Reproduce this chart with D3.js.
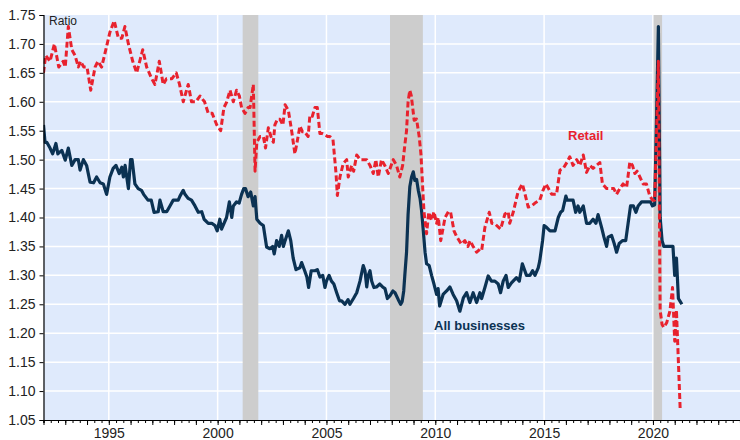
<!DOCTYPE html>
<html>
<head>
<meta charset="utf-8">
<script src="https://cdn.jsdelivr.net/npm/d3@7"></script>
<style>
  body { margin: 0; background: #fff; }
  svg { display: block; font-family: "Liberation Sans", Arial, sans-serif; }
</style>
</head>
<body>
<svg id="chart" width="740" height="440"></svg>
<script>

// readings, [decimal year, ratio]
const allBusinesses = [
  [1992.0, 1.56], [1992.07, 1.53], [1992.15, 1.53], [1992.3, 1.52], [1992.42, 1.51], [1992.57, 1.528],
  [1992.66, 1.51], [1992.84, 1.516], [1993.0, 1.499], [1993.14, 1.52], [1993.3, 1.49], [1993.45, 1.50],
  [1993.6, 1.50], [1993.68, 1.482], [1993.83, 1.50], [1993.98, 1.49], [1994.14, 1.461], [1994.3, 1.46],
  [1994.44, 1.47], [1994.6, 1.46], [1994.75, 1.458], [1994.9, 1.44], [1995.05, 1.47], [1995.2, 1.485],
  [1995.33, 1.49], [1995.48, 1.476], [1995.6, 1.487], [1995.67, 1.47], [1995.75, 1.49], [1995.9, 1.45],
  [1996.0, 1.50], [1996.07, 1.50], [1996.2, 1.458], [1996.35, 1.45], [1996.5, 1.447], [1996.6, 1.44],
  [1996.8, 1.43], [1996.95, 1.43], [1997.08, 1.409], [1997.27, 1.41], [1997.35, 1.43], [1997.5, 1.41],
  [1997.66, 1.41], [1997.81, 1.42], [1997.96, 1.43], [1998.19, 1.43], [1998.27, 1.437], [1998.42, 1.447],
  [1998.5, 1.44], [1998.65, 1.433], [1998.8, 1.43], [1998.96, 1.42], [1999.11, 1.409], [1999.27, 1.41],
  [1999.38, 1.397], [1999.57, 1.39], [1999.73, 1.39], [1999.88, 1.386], [1999.98, 1.377], [2000.1, 1.397],
  [2000.18, 1.38], [2000.41, 1.40], [2000.54, 1.427], [2000.65, 1.40], [2000.72, 1.42], [2000.87, 1.427],
  [2000.99, 1.425], [2001.1, 1.44], [2001.2, 1.45], [2001.28, 1.45], [2001.4, 1.436], [2001.52, 1.444],
  [2001.64, 1.42], [2001.72, 1.436], [2001.8, 1.397], [2001.95, 1.39], [2002.1, 1.386], [2002.25, 1.349],
  [2002.4, 1.346], [2002.53, 1.35], [2002.6, 1.337], [2002.71, 1.36], [2002.83, 1.35], [2002.94, 1.369],
  [2003.02, 1.35], [2003.1, 1.36], [2003.25, 1.377], [2003.36, 1.36], [2003.47, 1.33], [2003.6, 1.31],
  [2003.78, 1.313], [2003.86, 1.322], [2004.0, 1.308], [2004.1, 1.297], [2004.18, 1.279], [2004.3, 1.308],
  [2004.47, 1.308], [2004.58, 1.31], [2004.7, 1.297], [2004.83, 1.30], [2004.93, 1.279], [2005.0, 1.29],
  [2005.12, 1.30], [2005.23, 1.29], [2005.34, 1.285], [2005.47, 1.27], [2005.6, 1.256], [2005.7, 1.256],
  [2005.85, 1.25], [2005.99, 1.258], [2006.08, 1.25], [2006.24, 1.26], [2006.39, 1.27], [2006.54, 1.29],
  [2006.69, 1.317], [2006.77, 1.308], [2006.85, 1.28], [2006.92, 1.30], [2007.0, 1.308], [2007.08, 1.29],
  [2007.18, 1.279], [2007.3, 1.28], [2007.45, 1.285], [2007.58, 1.28], [2007.69, 1.277], [2007.8, 1.26],
  [2007.92, 1.265], [2008.05, 1.273], [2008.15, 1.27], [2008.3, 1.258], [2008.41, 1.25], [2008.48, 1.255],
  [2008.55, 1.273], [2008.6, 1.30], [2008.68, 1.34], [2008.75, 1.405], [2008.83, 1.453], [2008.91, 1.47],
  [2008.99, 1.479], [2009.06, 1.464], [2009.14, 1.466], [2009.22, 1.447], [2009.3, 1.433], [2009.37, 1.412],
  [2009.45, 1.377], [2009.53, 1.34], [2009.6, 1.32], [2009.72, 1.317], [2009.83, 1.30], [2009.94, 1.285],
  [2010.06, 1.267], [2010.13, 1.277], [2010.2, 1.247], [2010.36, 1.267], [2010.52, 1.273], [2010.67, 1.28],
  [2010.82, 1.267], [2010.98, 1.256], [2011.13, 1.238], [2011.29, 1.261], [2011.44, 1.27], [2011.59, 1.253],
  [2011.74, 1.27], [2011.9, 1.253], [2012.05, 1.27], [2012.13, 1.26], [2012.28, 1.279], [2012.43, 1.299],
  [2012.58, 1.29], [2012.74, 1.29], [2012.89, 1.285], [2013.0, 1.27], [2013.12, 1.29], [2013.25, 1.30],
  [2013.35, 1.279], [2013.5, 1.287], [2013.73, 1.296], [2013.86, 1.29], [2014.0, 1.32], [2014.19, 1.30],
  [2014.35, 1.30], [2014.47, 1.308], [2014.58, 1.30], [2014.73, 1.313], [2014.8, 1.325], [2014.93, 1.36],
  [2015.0, 1.386], [2015.11, 1.383], [2015.27, 1.377], [2015.5, 1.377], [2015.65, 1.40], [2015.76, 1.409],
  [2015.85, 1.412], [2016.0, 1.437], [2016.06, 1.43], [2016.18, 1.43], [2016.33, 1.43], [2016.45, 1.409],
  [2016.56, 1.42], [2016.64, 1.409], [2016.8, 1.42], [2016.95, 1.39], [2017.1, 1.39], [2017.25, 1.397],
  [2017.38, 1.39], [2017.48, 1.405], [2017.64, 1.383], [2017.75, 1.366], [2017.87, 1.35], [2017.94, 1.366],
  [2018.1, 1.369], [2018.22, 1.355], [2018.33, 1.34], [2018.45, 1.355], [2018.6, 1.36], [2018.75, 1.36],
  [2018.86, 1.39], [2018.97, 1.42], [2019.1, 1.42], [2019.22, 1.409], [2019.32, 1.42], [2019.48, 1.427],
  [2019.63, 1.427], [2019.78, 1.427], [2019.89, 1.427], [2019.98, 1.42], [2020.08, 1.422], [2020.17, 1.58],
  [2020.25, 1.73], [2020.33, 1.40], [2020.42, 1.36], [2020.5, 1.35], [2020.92, 1.35], [2021.0, 1.30],
  [2021.08, 1.33], [2021.17, 1.26], [2021.25, 1.255], [2021.33, 1.25]
]

const retail = [
  [1992.0, 1.65], [1992.1, 1.68], [1992.3, 1.67], [1992.5, 1.70], [1992.7, 1.66], [1992.9, 1.67],
  [1993.0, 1.66], [1993.14, 1.73], [1993.3, 1.69], [1993.45, 1.68], [1993.6, 1.66], [1993.7, 1.67],
  [1993.85, 1.66], [1994.0, 1.66], [1994.17, 1.62], [1994.37, 1.66], [1994.5, 1.67], [1994.67, 1.66],
  [1994.8, 1.68], [1995.05, 1.72], [1995.25, 1.74], [1995.44, 1.71], [1995.6, 1.71], [1995.74, 1.73],
  [1995.9, 1.70], [1996.1, 1.67], [1996.28, 1.65], [1996.42, 1.67], [1996.56, 1.69], [1996.74, 1.66],
  [1996.97, 1.64], [1997.12, 1.63], [1997.32, 1.67], [1997.5, 1.63], [1997.65, 1.64], [1997.9, 1.64],
  [1998.1, 1.65], [1998.25, 1.63], [1998.42, 1.60], [1998.65, 1.63], [1998.8, 1.60], [1999.0, 1.60],
  [1999.19, 1.61], [1999.4, 1.60], [1999.57, 1.58], [1999.75, 1.58], [1999.96, 1.56], [2000.14, 1.55],
  [2000.29, 1.59], [2000.42, 1.60], [2000.57, 1.62], [2000.72, 1.60], [2000.87, 1.62], [2001.0, 1.61],
  [2001.1, 1.59], [2001.26, 1.58], [2001.4, 1.59], [2001.49, 1.59], [2001.64, 1.63], [2001.72, 1.48],
  [2001.8, 1.53], [2001.95, 1.54], [2002.1, 1.54], [2002.2, 1.52], [2002.33, 1.555], [2002.45, 1.54],
  [2002.56, 1.53], [2002.63, 1.56], [2002.75, 1.57], [2002.86, 1.57], [2003.0, 1.56], [2003.1, 1.595],
  [2003.25, 1.585], [2003.4, 1.55], [2003.55, 1.51], [2003.65, 1.53], [2003.78, 1.558], [2003.9, 1.548],
  [2004.0, 1.548], [2004.16, 1.54], [2004.24, 1.577], [2004.35, 1.575], [2004.47, 1.59], [2004.58, 1.59],
  [2004.7, 1.545], [2004.82, 1.545], [2004.93, 1.543], [2005.05, 1.54], [2005.16, 1.54], [2005.3, 1.535],
  [2005.44, 1.476], [2005.5, 1.438], [2005.62, 1.47], [2005.77, 1.493], [2005.93, 1.50], [2006.0, 1.47],
  [2006.16, 1.49], [2006.25, 1.48], [2006.39, 1.508], [2006.55, 1.50], [2006.7, 1.50], [2006.85, 1.50],
  [2007.0, 1.49], [2007.15, 1.476], [2007.27, 1.50], [2007.38, 1.47], [2007.53, 1.50], [2007.68, 1.49],
  [2007.84, 1.476], [2008.07, 1.50], [2008.22, 1.49], [2008.37, 1.47], [2008.5, 1.49], [2008.6, 1.525],
  [2008.68, 1.55], [2008.75, 1.60], [2008.83, 1.62], [2008.9, 1.61], [2009.03, 1.568], [2009.14, 1.57],
  [2009.26, 1.54], [2009.34, 1.51], [2009.48, 1.41], [2009.6, 1.372], [2009.7, 1.409], [2009.83, 1.395],
  [2009.94, 1.41], [2010.06, 1.39], [2010.14, 1.40], [2010.25, 1.36], [2010.45, 1.40], [2010.6, 1.41],
  [2010.7, 1.41], [2010.86, 1.377], [2010.98, 1.367], [2011.2, 1.354], [2011.36, 1.36], [2011.5, 1.35],
  [2011.6, 1.36], [2011.74, 1.35], [2011.9, 1.34], [2012.05, 1.345], [2012.13, 1.343], [2012.28, 1.383],
  [2012.48, 1.409], [2012.6, 1.39], [2012.74, 1.389], [2013.0, 1.38], [2013.2, 1.406], [2013.35, 1.41],
  [2013.42, 1.39], [2013.58, 1.409], [2013.8, 1.444], [2014.0, 1.458], [2014.1, 1.444], [2014.27, 1.418],
  [2014.42, 1.42], [2014.58, 1.425], [2014.8, 1.43], [2014.95, 1.447], [2015.08, 1.458], [2015.2, 1.45],
  [2015.35, 1.44], [2015.57, 1.44], [2015.73, 1.482], [2015.88, 1.485], [2016.06, 1.496], [2016.18, 1.505],
  [2016.33, 1.49], [2016.5, 1.50], [2016.64, 1.49], [2016.8, 1.508], [2016.95, 1.478], [2017.1, 1.49],
  [2017.25, 1.485], [2017.4, 1.49], [2017.56, 1.495], [2017.68, 1.458], [2017.87, 1.45], [2018.0, 1.45],
  [2018.2, 1.45], [2018.33, 1.44], [2018.48, 1.45], [2018.63, 1.458], [2018.79, 1.452], [2018.94, 1.496],
  [2019.06, 1.49], [2019.17, 1.476], [2019.27, 1.48], [2019.4, 1.47], [2019.55, 1.458], [2019.7, 1.458],
  [2019.85, 1.438], [2019.98, 1.43], [2020.08, 1.43], [2020.17, 1.55], [2020.25, 1.67], [2020.33, 1.24],
  [2020.42, 1.215], [2020.5, 1.21], [2020.63, 1.218], [2020.78, 1.238], [2020.9, 1.279], [2021.0, 1.186],
  [2021.08, 1.24], [2021.17, 1.15], [2021.25, 1.07]
]

const recessions = [[2001.15, 2001.87], [2007.92, 2009.43], [2020.03, 2020.42]]

const yTicks = [1.05, 1.10, 1.15, 1.20, 1.25, 1.30, 1.35, 1.40, 1.45, 1.50, 1.55, 1.60, 1.65, 1.70, 1.75]

const yearLabels = [1995, 2000, 2005, 2010, 2015, 2020]

// plot frame (window.top is read-only, so keep these names distinct)
var plotLeft = 43.5, plotRight = 740, plotTop = 15, plotBottom = 420

var x = d3.scaleLinear().domain([1992, 2024]).range([plotLeft, plotRight])

var y = d3.scaleLinear().domain([1.05, 1.75]).range([plotBottom, plotTop])

var svg = d3.select('#chart')

svg.append('defs').append('clipPath').attr('id', 'plot-clip')
    .append('rect')
    .attr('x', plotLeft).attr('y', plotTop)
    .attr('width', plotRight - plotLeft).attr('height', plotBottom - plotTop)

// background
svg.append('rect')
    .attr('x', plotLeft).attr('y', plotTop)
    .attr('width', plotRight - plotLeft).attr('height', plotBottom - plotTop)
    .attr('fill', '#dfeafc')

// grid
var grid = svg.append('g').attr('stroke', '#ffffff').attr('stroke-width', 1.5)

grid.selectAll('.hgrid')
    .data(yTicks.slice(1, -1))
    .enter().append('line')
    .attr('x1', plotLeft).attr('x2', plotRight)
    .attr('y1', d => y(d)).attr('y2', d => y(d))

grid.selectAll('.vgrid')
    .data(yearLabels)
    .enter().append('line')
    .attr('x1', d => x(d)).attr('x2', d => x(d))
    .attr('y1', plotTop).attr('y2', plotBottom)

// recession shading, over the grid
svg.append('g')
    .selectAll('rect')
    .data(recessions)
    .enter().append('rect')
    .attr('x', d => x(d[0]))
    .attr('y', plotTop)
    .attr('width', d => x(d[1]) - x(d[0]))
    .attr('height', plotBottom - plotTop)
    .attr('fill', '#cdcdcd')

// series
var line = d3.line().x(d => x(d[0])).y(d => y(d[1]))

var lines = svg.append('g').attr('clip-path', 'url(#plot-clip)')

lines.append('path')
    .datum(allBusinesses)
    .attr('d', line)
    .attr('fill', 'none')
    .attr('stroke', '#0b3253')
    .attr('stroke-width', 3.2)
    .attr('stroke-linejoin', 'round')

lines.append('path')
    .datum(retail)
    .attr('d', line)
    .attr('fill', 'none')
    .attr('stroke', '#e8222e')
    .attr('stroke-width', 3)
    .attr('stroke-dasharray', '6,3')
    .attr('stroke-linejoin', 'round')

// y axis
var yAxis = svg.append('g')
    .attr('transform', `translate(${plotLeft},0)`)
    .call(d3.axisLeft(y).tickValues(yTicks).tickFormat(d3.format('.2f')).tickSize(4).tickPadding(4))

yAxis.select('.domain').attr('stroke', '#000').attr('stroke-width', 1.2)
yAxis.selectAll('.tick line').attr('stroke', '#000')
yAxis.selectAll('text').attr('font-size', '14px').attr('fill', '#222').attr('font-family', '"Liberation Sans", Arial, sans-serif')

// x axis: minor ticks every 4 months, labels every 5 years
var minor = d3.range(0, 97).map(i => 1992 + i / 3)

var xAxis = svg.append('g')
    .attr('transform', `translate(0,${plotBottom})`)
    .call(d3.axisBottom(x).tickValues(minor).tickSize(3).tickFormat(''))

xAxis.select('.domain').attr('stroke', '#000').attr('stroke-width', 1.2)
xAxis.selectAll('.tick line').attr('stroke', '#000')

var xLabels = svg.append('g')
    .attr('transform', `translate(0,${plotBottom})`)
    .call(d3.axisBottom(x).tickValues(d3.range(1992, 2025)).tickSize(5).tickFormat(d => yearLabels.includes(d) ? d : '').tickPadding(3))

xLabels.select('.domain').remove()
xLabels.selectAll('.tick line').attr('stroke', '#000')
xLabels.selectAll('text').attr('font-size', '14px').attr('fill', '#222').attr('font-family', '"Liberation Sans", Arial, sans-serif')

// annotations
svg.append('text')
    .attr('x', 49).attr('y', 25)
    .text('Ratio')
    .attr('font-size', '12px')
    .attr('fill', '#222')

svg.append('text')
    .attr('x', 568).attr('y', 140)
    .text('Retail')
    .attr('font-size', '13px')
    .attr('font-weight', 'bold')
    .attr('fill', '#e8222e')

svg.append('text')
    .attr('x', 434).attr('y', 330)
    .text('All businesses')
    .attr('font-size', '13px')
    .attr('font-weight', 'bold')
    .attr('fill', '#0b3253')

</script>
</body>
</html>
